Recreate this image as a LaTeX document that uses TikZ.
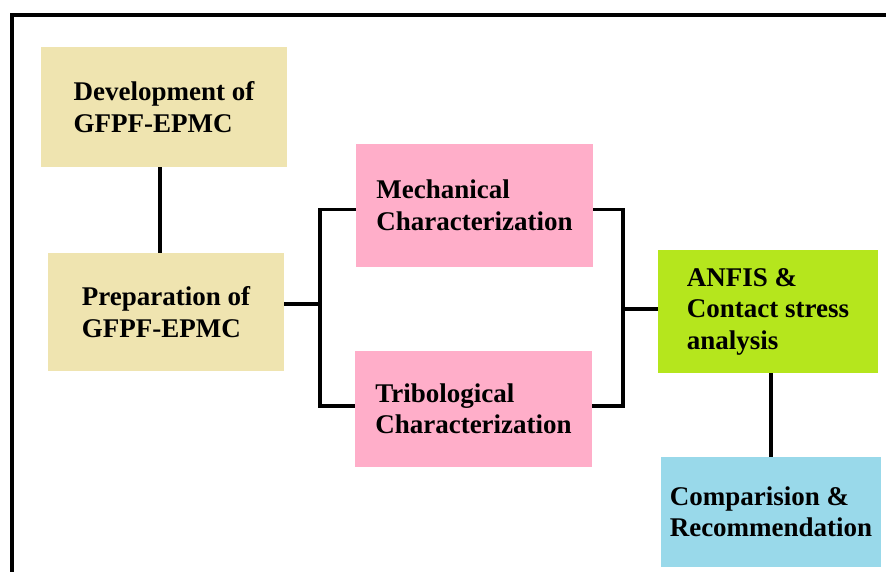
\documentclass[tikz,border=0pt]{standalone}
\usepackage{fontspec}
\setmainfont{Liberation Serif}
\definecolor{tan}{HTML}{EFE4B0}
\definecolor{rose}{HTML}{FFAEC9}
\definecolor{lime}{HTML}{B5E61D}
\definecolor{sky}{HTML}{99D9EA}
\begin{document}
\begin{tikzpicture}[x=1pt,y=-1pt,
  boxstyle/.style={rectangle, inner sep=0pt, align=left, text=black,
    font=\bfseries\fontsize{27}{31.5}\selectfont},
  link/.style={line width=3.2pt, black}]
\clip (0,0) rectangle (886,572);
\fill[white] (0,0) rectangle (886,572);
\draw[line width=4pt] (11.5,620) |- (920,15);

\node[boxstyle, fill=tan, minimum width=246pt, minimum height=120pt] (dev) at (164,107) {Development of\\GFPF-EPMC};
\node[boxstyle, fill=tan, minimum width=236pt, minimum height=118pt] (prep) at (166,312) {Preparation of\\GFPF-EPMC};
\node[boxstyle, fill=rose, minimum width=237pt, minimum height=123pt] (mech) at (474.5,205.5) {Mechanical\\Characterization};
\node[boxstyle, fill=rose, minimum width=237pt, minimum height=116pt] (trib) at (473.5,409) {Tribological\\Characterization};
\node[boxstyle, fill=lime, minimum width=220pt, minimum height=123pt] (anfis) at (768,311.5) {ANFIS \&\\Contact stress\\analysis};
\node[boxstyle, fill=sky, minimum width=220pt, minimum height=110pt] (comp) at (771,512) {Comparision \&\\Recommendation};

\coordinate (lj) at (320,304);
\coordinate (rj) at (623,309);

\draw[link] ([xshift=-4pt]dev.south) -- ([xshift=-4pt]dev.south |- prep.north);
\draw[link] (prep.east |- lj) -- (lj);
\draw[link] ([yshift=-4pt]mech.west) -| (lj) |- ([yshift=3pt]trib.west);
\draw[link] ([yshift=-4pt]mech.east) -| (rj) |- ([yshift=3pt]trib.east);
\draw[link] (rj) -- (anfis.west |- rj);
\draw[link] (comp.north) -- (comp.north |- anfis.south);
\end{tikzpicture}
\end{document}
